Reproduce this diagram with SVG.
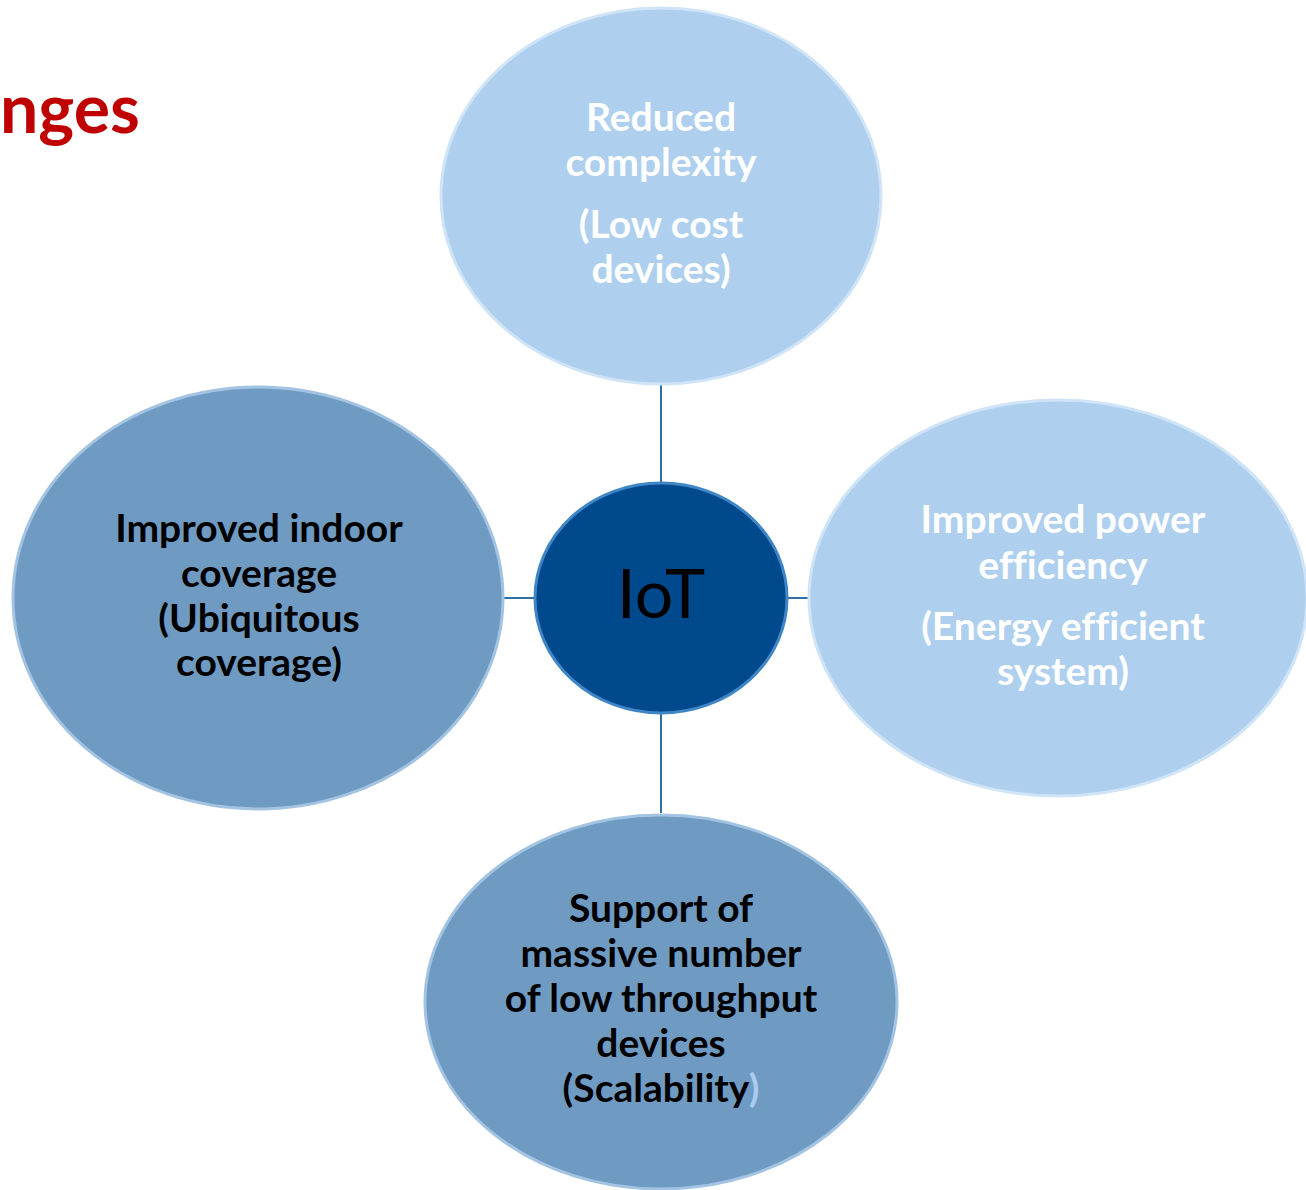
<svg xmlns="http://www.w3.org/2000/svg" width="1306" height="1190" viewBox="0 0 1306 1190">
<style>
.light{fill:#aed0ee;stroke:#cfe4f6;stroke-width:3}
.mid{fill:#6f9ac2;stroke:#a3c3e2;stroke-width:3}
.core{fill:#00498c;stroke:#3f86c7;stroke-width:3}
.conn{stroke:#2f6fa3;stroke-width:2;fill:none}
.t{font-family:Lato,"Open Sans","Liberation Sans",sans-serif;font-weight:bold;font-size:39px;text-anchor:middle;font-variant-ligatures:none}
.w{fill:#ffffff}
.k{fill:#000000}
</style>
<rect width="1306" height="1190" fill="#ffffff"/>
<text x="0" y="133" font-family="Lato,'Open Sans','Liberation Sans',sans-serif" font-weight="bold" font-size="68" fill="#c00000">nges</text>
<g id="connectors">
<line class="conn" x1="661" y1="383" x2="661" y2="485"/>
<line class="conn" x1="661" y1="711" x2="661" y2="813"/>
<line class="conn" x1="501" y1="598" x2="537" y2="598"/>
<line class="conn" x1="786" y1="598" x2="810" y2="598"/>
</g>
<g id="node-top">
<ellipse class="light" cx="661" cy="196" rx="220" ry="188"/>
<text class="t w" x="661" y="131">Reduced</text>
<text class="t w" x="661" y="176">complexity</text>
<text class="t w" x="661" y="238">(Low cost</text>
<text class="t w" x="661" y="283">devices)</text>
</g>
<g id="node-right">
<ellipse class="light" cx="1058" cy="598" rx="249" ry="198"/>
<text class="t w" x="1063" y="533">Improved power</text>
<text class="t w" x="1063" y="579">efficiency</text>
<text class="t w" x="1063" y="640">(Energy efficient</text>
<text class="t w" x="1063" y="685">system)</text>
</g>
<g id="node-left">
<ellipse class="mid" cx="258" cy="598" rx="245" ry="211"/>
<text class="t k" x="259" y="542">Improved indoor</text>
<text class="t k" x="259" y="587">coverage</text>
<text class="t k" x="259" y="632">(Ubiquitous</text>
<text class="t k" x="259" y="676">coverage)</text>
</g>
<g id="node-bottom">
<ellipse class="mid" cx="661" cy="1002" rx="236" ry="187"/>
<text class="t k" x="661" y="922">Support of</text>
<text class="t k" x="661" y="967">massive number</text>
<text class="t k" x="661" y="1012">of low throughput</text>
<text class="t k" x="661" y="1057">devices</text>
<text class="t k" x="661" y="1102">(Scalability<tspan fill="#aacbec">)</tspan></text>
</g>
<g id="node-center">
<ellipse class="core" cx="661" cy="598" rx="126" ry="115"/>
<text x="661" y="618" font-family="Lato,'Open Sans','Liberation Sans',sans-serif" font-size="68" text-anchor="middle" fill="#000000">IoT</text>
</g>
</svg>
